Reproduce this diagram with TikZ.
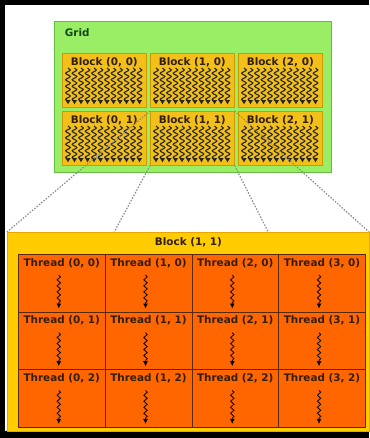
\documentclass[tikz,border=0pt]{standalone}
\usepackage{fontspec}
\newfontfamily\lblfont{DejaVu Sans}
\usetikzlibrary{decorations.pathmorphing,arrows.meta,positioning}

\definecolor{gridfill}{RGB}{153,238,102}
\definecolor{gridedge}{RGB}{102,187,68}
\definecolor{gridtext}{RGB}{20,70,20}
\definecolor{blkfill}{RGB}{242,192,24}
\definecolor{blkedge}{RGB}{205,155,0}
\definecolor{bigfill}{RGB}{255,204,0}
\definecolor{bigedge}{RGB}{235,165,0}
\definecolor{thrfill}{RGB}{255,102,0}
\definecolor{thredge}{RGB}{90,40,10}
\definecolor{lbltext}{RGB}{50,30,10}
\definecolor{zoomline}{RGB}{140,140,140}

\tikzset{
  lbl/.style={font=\lblfont\bfseries\fontsize{10.4}{12}\selectfont, text=lbltext, inner sep=0.75pt},
  gridbox/.style={draw=gridedge, fill=gridfill, line width=1pt, anchor=north west, inner sep=0, minimum width=277, minimum height=151},
  blk/.style={draw=blkedge, fill=blkfill, line width=0.6pt, anchor=north west, inner sep=0, minimum width=84, minimum height=54},
  bigblk/.style={draw=bigedge, fill=bigfill, line width=0.8pt, anchor=north west, inner sep=0, minimum width=362, minimum height=199},
  thr/.style={draw=thredge, fill=thrfill, line width=0.8pt, anchor=north west, inner sep=0, minimum width=86.75, minimum height=57.7},
  wavy/.style={decorate, decoration={snake, amplitude=2.3pt, segment length=6.5pt, post length=3pt}, line width=1.1pt, draw=black!85, -{Latex[length=4.5pt,width=5.5pt]}},
  tinywavy/.style={decorate, decoration={snake, amplitude=1.7pt, segment length=6pt, post length=3pt}, line width=0.8pt, -{Latex[length=5pt,width=5pt]}},
  zoom/.style={draw=zoomline, line width=1.2pt, dash pattern=on 1.5pt off 1.5pt}
}

\begin{document}
\begin{tikzpicture}[x=1pt,y=1pt,yscale=-1,xscale=1]
\useasboundingbox (0,0) rectangle (369,438);
\fill[white] (0,0) rectangle (369,438);

% frame
\fill[black] (0,0) rectangle (369,5);
\fill[black] (0,0) rectangle (5,438);
\fill[black] (0,431) rectangle (369,438);

% grid of blocks
\node[gridbox] (grid) at (54,21) {};
\node[lbl, text=gridtext, anchor=west] (gridlbl) at ([xshift=10,yshift=12]grid.north west) {Grid};

\foreach \i in {0,1,2}
  \foreach \j in {0,1} {
    \node[blk] (b\i\j) at (62+\i*88,53+\j*58) {};
    \node[lbl] (b\i\j l) at ([yshift=9]b\i\j.north) {Block (\i, \j)};
    \foreach \k in {0,...,11}
      \draw[wavy] ([xshift=6+\k*6.5,yshift=15]b\i\j.north west) -- ([xshift=6+\k*6.5,yshift=-3]b\i\j.south west);
  }

% zoom lines
\coordinate (bigNW) at (7,232);
\coordinate (bigSW) at (7,431);
\coordinate (bigNE) at (369,232);
\coordinate (bigSE) at (369,431);
\draw[zoom] (b11.north west) -- (bigNW);
\draw[zoom] (b11.south west) -- (bigSW);
\draw[zoom] (b11.north east) -- (bigNE);
\draw[zoom] (b11.south east) -- (bigSE);

% block (1, 1) with its threads
\node[bigblk] (big) at (bigNW) {};
\node[lbl] (biglbl) at ([yshift=10]big.north) {Block (1, 1)};

\foreach \i in {0,...,3}
  \foreach \j in {0,1,2} {
    \node[thr] (t\i\j) at (18+\i*86.75,254+\j*57.7) {};
    \node[lbl] (t\i\j l) at ([yshift=9]t\i\j.north) {Thread (\i, \j)};
    \draw[tinywavy] ([xshift=-3,yshift=21]t\i\j.north) -- ([xshift=-3,yshift=-4]t\i\j.south);
  }

\end{tikzpicture}
\end{document}
